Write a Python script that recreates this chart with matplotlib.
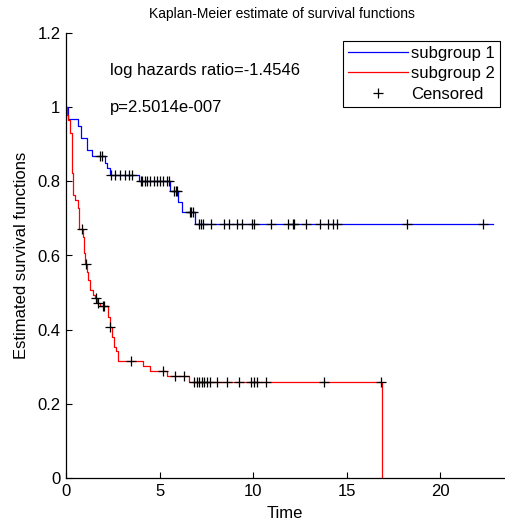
import matplotlib
matplotlib.use("Agg")
import matplotlib.pyplot as plt
from matplotlib.lines import Line2D
from matplotlib.ticker import FuncFormatter
import numpy as np

plt.rcParams['font.family'] = ['Liberation Sans', 'DejaVu Sans']

# ---- data ----
g1_step_t = [0.11, 0.62, 0.80, 1.12, 1.40, 2.10, 2.19, 2.33, 3.92, 5.57, 5.97, 6.20, 6.87]
g1_step_s = [0.967, 0.950, 0.918, 0.885, 0.868, 0.849, 0.835, 0.817, 0.800, 0.774, 0.743, 0.717, 0.684]
g1_end = 22.8
g1_cens = [1.82, 1.90, 2.40, 2.63, 2.90, 3.16, 3.34, 3.55, 4.00, 4.08, 4.20, 4.35,
           4.50, 4.68, 4.86, 5.02, 5.20, 5.38, 5.50, 5.78, 5.88, 5.95, 6.60, 6.70,
           6.80, 7.12, 7.21, 7.30, 7.75, 8.44, 8.71, 9.15, 9.42, 9.92, 10.04, 10.93,
           11.87, 12.11, 12.19, 12.80, 13.55, 13.98, 14.28, 14.46, 18.20, 22.30]

g2_step_t = [0.04, 0.10, 0.20, 0.30, 0.40, 0.50, 0.62, 0.70, 0.92, 0.97, 1.02, 1.10,
             1.20, 1.28, 1.45, 1.55, 1.66, 1.80, 2.25, 2.33, 2.45, 2.55, 2.65, 2.78,
             4.10, 4.49, 5.41, 6.59, 16.86]
g2_step_s = [0.980, 0.965, 0.931, 0.822, 0.763, 0.750, 0.727, 0.671, 0.650, 0.606,
             0.578, 0.556, 0.534, 0.507, 0.494, 0.485, 0.471, 0.464, 0.433, 0.408,
             0.381, 0.354, 0.342, 0.316, 0.302, 0.289, 0.275, 0.258, 0.0]
g2_end = 16.86
g2_cens = [0.84, 1.07, 1.60, 1.69, 1.96, 2.05, 2.37, 3.45, 5.18, 5.82, 6.30, 6.85,
           6.98, 7.10, 7.25, 7.39, 7.52, 7.69, 8.08, 8.58, 9.26, 9.88, 10.04, 10.22,
           10.68, 13.78, 16.83]

series_labels = ["subgroup 1", "subgroup 2", "Censored"]
x_ticks = [0, 5, 10, 15, 20]
y_ticks = [0, 0.2, 0.4, 0.6, 0.8, 1.0, 1.2]
title = "Kaplan-Meier estimate of survival functions"
xlabel = "Time"
ylabel = "Estimated survival functions"
note1 = "log hazards ratio=-1.4546"
note2 = "p=2.5014e-007"


def surv_at(t, st, ss):
    val = 1.0
    for a, b in zip(st, ss):
        if a <= t:
            val = b
    return val


W, H = 505, 527
fig = plt.figure(figsize=(W / 100, H / 100), dpi=100)
px = 18.72  # pixels per time unit
ax = fig.add_axes([66 / W, (H - 478) / H, 25 * px / W, 445 / H])

fs = 12
ms = 6.5

# curves
x1 = [0] + g1_step_t + [g1_end]
y1 = [1.0] + g1_step_s + [g1_step_s[-1]]
x2 = [0] + g2_step_t
y2 = [1.0] + g2_step_s
ax.step(x1, y1, where='post', color=(0, 0, 1), lw=0.9)
ax.step(x2, y2, where='post', color=(1, 0, 0), lw=0.9)

c1y = [surv_at(t, g1_step_t, g1_step_s) for t in g1_cens]
c2y = [surv_at(t, g2_step_t, g2_step_s) for t in g2_cens]
ax.plot(g1_cens, c1y, '+', color='k', ms=ms, mew=0.9, ls='none')
ax.plot(g2_cens, c2y, '+', color='k', ms=ms, mew=0.9, ls='none')

ax.set_xlim(0, 25)
ax.set_ylim(0, 1.2)
ax.set_xticks(x_ticks)
ax.set_yticks(y_ticks)
fmt = FuncFormatter(lambda v, p: ('%g' % round(v, 3)))
ax.xaxis.set_major_formatter(fmt)
ax.yaxis.set_major_formatter(fmt)
ax.tick_params(direction='in', length=4, width=0.8, labelsize=fs, pad=4)
for s in ['top', 'right']:
    ax.spines[s].set_visible(False)
for s in ['left', 'bottom']:
    ax.spines[s].set_linewidth(0.9)

fig.text(282 / W, 1 - 14 / H, title, ha='center', va='center', fontsize=10)
fig.text(285 / W, 1 - 514 / H, xlabel, ha='center', va='center', fontsize=fs)
fig.text(22 / W, 1 - 255 / H, ylabel, ha='center', va='center', rotation=90, fontsize=fs)

ax.text(2.35, 1.10, note1, ha='left', va='center', fontsize=fs)
ax.text(2.35, 0.998, note2, ha='left', va='center', fontsize=fs)

handles = [Line2D([], [], color=(0, 0, 1), lw=0.9),
           Line2D([], [], color=(1, 0, 0), lw=0.9),
           Line2D([], [], color='k', marker='+', ls='none', ms=ms, mew=0.9)]
leg = fig.legend(handles, series_labels, loc='upper left',
                 bbox_to_anchor=(343 / W, 1 - 41 / H), fontsize=fs,
                 frameon=True, fancybox=False, framealpha=1, edgecolor='k',
                 handlelength=3.6, handletextpad=0.2, labelspacing=0.32,
                 borderpad=0.3, borderaxespad=0)
leg.get_frame().set_linewidth(0.8)

fig.savefig('out.png', dpi=100)
